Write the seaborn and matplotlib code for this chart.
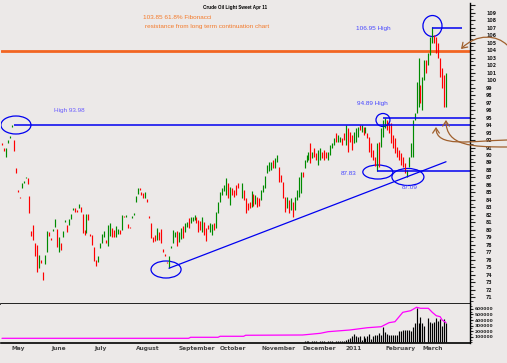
import numpy as np
import pandas as pd
import matplotlib
matplotlib.use("Agg")
import matplotlib.pyplot as plt
from matplotlib.patches import Ellipse, FancyArrowPatch
from matplotlib.path import Path
from matplotlib.ticker import MultipleLocator, FixedLocator
import seaborn as sns

sns.set_style("white")

# ---------------- data ----------------
holidays = ["2010-05-31", "2010-07-05", "2010-09-06", "2010-11-25",
            "2010-12-24", "2011-01-17", "2011-02-21"]
first_day, last_day = "2010-04-26", "2011-04-01"

# daily bars: trading-session number, high, low, up(1)/down(0)
bar_session = list(range(0, 121)) + list(range(122, 227))
bar_high = [91.6, 90.9, 90.9, 92.0, 92.5, 94.0, 92.0, 88.3, 85.3, 84.4,
            86.3, 86.5, 87.1, 86.9, 84.5, 79.9, 80.7, 78.3, 78.0, 76.7,
            76.0, 74.4, 76.7, 79.9, 79.7, 78.9, 80.1, 81.5, 80.1, 79.1,
            78.3, 79.9, 81.3, 80.7, 81.5, 82.1, 82.9, 82.9, 82.7, 83.5,
            83.1, 82.1, 80.0, 82.1, 82.1, 79.4, 79.3, 77.7, 76.0, 76.5,
            78.3, 79.5, 79.9, 78.7, 80.7, 80.9, 80.3, 80.0, 80.5, 80.1,
            80.0, 82.0, 81.9, 82.0, 80.8, 80.4, 81.9, 82.3, 84.5, 85.6,
            85.6, 85.1, 84.9, 85.1, 84.1, 81.9, 80.9, 79.1, 79.3, 80.3,
            79.7, 80.1, 77.5, 76.8, 75.7, 76.5, 77.9, 80.0, 79.7, 79.9,
            79.7, 80.3, 80.5, 80.9, 81.1, 81.6, 81.7, 81.7, 82.0, 81.7,
            81.3, 81.2, 81.7, 81.1, 80.3, 80.7, 80.9, 80.8, 80.9, 82.4,
            83.7, 85.1, 85.6, 86.0, 86.9, 86.3, 85.7, 85.6, 85.3, 86.0,
            86.3,
            86.3, 85.3, 84.3, 83.6, 83.7, 85.2, 84.8, 84.7, 84.4, 84.3,
            85.3, 86.0, 87.2, 88.7, 89.1, 89.1, 89.3, 89.6, 90.0, 88.4,
            87.3, 86.4, 84.4, 84.4, 84.0, 84.3, 83.7, 84.4, 85.3, 87.1,
            87.7, 87.7, 89.3, 90.0, 90.4, 91.6, 90.4, 90.9, 90.3, 90.7,
            90.9, 90.4, 90.7, 90.4, 90.4, 91.3, 91.6, 92.3, 92.9, 92.7,
            92.4, 92.3, 92.9, 94.0, 93.6, 93.1, 92.7, 93.1, 93.6, 93.7,
            94.0, 94.0, 93.7, 93.7, 92.9, 92.4, 91.6, 90.7, 89.7, 91.6,
            91.7, 93.6, 94.7, 95.0, 94.7, 94.3, 94.3, 92.7, 92.3, 91.1,
            90.7, 90.3, 89.7, 88.9, 88.0, 89.7, 91.6, 94.7, 95.6, 99.7,
            103.0, 99.3, 100.4, 102.7, 102.7, 103.6, 105.7, 107.1, 106.0, 105.7,
            105.0, 102.9, 101.6, 100.7, 100.9]
bar_low = [91.3, 90.5, 89.7, 91.6, 92.3, 93.7, 90.5, 87.6, 85.1, 84.2,
           85.6, 86.3, 86.9, 86.1, 82.3, 79.2, 78.7, 76.5, 74.4, 74.9,
           75.6, 73.3, 75.5, 77.1, 79.2, 78.7, 79.9, 80.4, 77.7, 77.1,
           77.3, 79.1, 81.0, 79.7, 80.7, 81.5, 82.7, 82.4, 82.4, 82.9,
           82.4, 79.6, 79.3, 79.6, 81.3, 79.2, 78.0, 75.9, 75.2, 75.7,
           77.6, 78.3, 79.1, 78.3, 77.9, 79.2, 79.1, 79.1, 79.1, 79.5,
           79.5, 80.0, 81.7, 81.7, 80.3, 80.3, 81.6, 82.0, 83.7, 84.8,
           85.3, 84.7, 84.3, 84.3, 83.7, 81.6, 78.9, 78.4, 78.5, 78.7,
           78.7, 78.3, 77.1, 76.5, 75.6, 74.9, 77.6, 78.3, 79.1, 77.9,
           78.4, 78.8, 78.9, 79.7, 80.4, 80.3, 80.9, 81.2, 81.3, 80.9,
           79.7, 80.0, 79.7, 79.3, 78.5, 80.1, 79.7, 79.3, 80.0, 80.3,
           82.3, 83.7, 84.7, 85.2, 84.7, 84.3, 83.3, 84.7, 84.4, 84.7,
           85.6,
           84.3, 84.0, 82.3, 82.7, 82.9, 83.1, 83.2, 83.5, 83.1, 83.2,
           84.0, 85.1, 85.6, 87.6, 87.9, 88.0, 88.3, 88.3, 89.1, 86.4,
           86.4, 84.3, 82.4, 82.9, 82.3, 82.7, 81.7, 82.7, 84.0, 84.4,
           84.9, 87.1, 88.3, 89.1, 89.3, 88.9, 89.6, 89.7, 89.3, 88.7,
           89.3, 89.6, 89.3, 89.6, 89.3, 90.0, 90.9, 91.3, 91.7, 91.7,
           91.7, 91.3, 92.0, 91.3, 90.4, 91.7, 90.7, 91.6, 91.7, 92.4,
           93.3, 93.1, 92.7, 92.9, 92.3, 90.4, 89.7, 89.3, 88.5, 87.8,
           88.4, 91.1, 92.4, 93.6, 93.3, 92.9, 91.6, 90.9, 90.3, 89.7,
           89.3, 88.7, 88.4, 87.6, 87.1, 88.4, 89.7, 89.7, 94.7, 95.6,
           96.4, 96.9, 96.0, 100.0, 100.9, 102.0, 103.3, 104.9, 104.9, 103.6,
           103.0, 100.4, 99.0, 96.4, 96.4]
bar_up = [0, 0, 1, 1, 1, 1, 0, 0, 0, 0,
          1, 1, 1, 0, 0, 0, 0, 0, 0, 1,
          0, 0, 1, 1, 0, 0, 1, 1, 0, 1,
          0, 1, 1, 0, 1, 1, 1, 0, 0, 1,
          0, 0, 0, 1, 0, 0, 0, 0, 0, 1,
          1, 1, 1, 0, 1, 1, 0, 0, 1, 1,
          0, 1, 0, 1, 0, 0, 1, 1, 1, 1,
          0, 0, 0, 1, 0, 0, 0, 0, 0, 1,
          0, 0, 0, 0, 0, 1, 1, 1, 1, 0,
          1, 1, 0, 1, 1, 0, 1, 1, 1, 0,
          0, 0, 1, 0, 0, 0, 1, 1, 0, 1,
          1, 1, 1, 1, 1, 0, 1, 0, 0, 0,
          0,
          1, 0, 0, 0, 0, 1, 0, 1, 0, 0,
          1, 1, 1, 1, 1, 1, 0, 1, 1, 0,
          0, 0, 0, 1, 0, 1, 0, 1, 1, 1,
          1, 0, 1, 1, 1, 0, 1, 0, 0, 1,
          1, 0, 0, 0, 1, 1, 1, 1, 0, 1,
          1, 0, 0, 1, 0, 0, 0, 1, 1, 1,
          0, 1, 0, 1, 0, 0, 0, 0, 0, 1,
          0, 1, 1, 1, 0, 0, 0, 0, 0, 0,
          0, 0, 0, 0, 1, 1, 1, 1, 1, 1,
          1, 0, 1, 1, 0, 1, 1, 1, 0, 0,
          0, 0, 0, 0, 1]

# volume
vol_session = [98, 99, 101, 102, 103, 112, 113, 114, 116, 125, 126, 128, 129, 131,
               134, 137, 140, 143, 147,
               154, 155, 156, 158, 159, 160, 162, 163, 164, 166, 167, 168, 170,
               171, 172, 173, 174,
               175, 176, 177, 178, 179, 180, 181, 182, 183, 184, 185, 186, 187,
               188, 189, 190, 191, 192, 193, 194, 195, 196, 197, 198, 199, 200,
               201, 202, 203, 204, 205, 206, 207, 208, 209, 210, 211, 212, 213,
               214, 215, 217, 218, 219, 220, 221, 222, 223, 224, 225, 226]
vol_value = [8000, 8000, 9000, 8000, 9000, 9000, 10000, 9000, 10000, 10000, 11000,
             12000, 10000, 13000, 12000, 10000, 12000, 14000, 12000,
             27000, 26000, 25000, 24000, 20000, 28000, 22000, 25000, 30000,
             24000, 27000, 25000, 28000, 30000, 26000, 33000, 30000,
             45000, 62000, 80000, 121000, 146000, 110000, 96000, 110000, 45000,
             110000, 75000, 110000, 152000, 60000, 114000, 125000, 134000,
             176000, 134000, 282000, 182000, 160000, 134000, 134000, 125000,
             140000, 134000, 205000, 205000, 223000, 223000, 223000, 223000,
             214000, 282000, 342000, 611000, 354000, 461000, 342000, 300000,
             443000, 371000, 354000, 371000, 443000, 389000, 420000, 295000,
             425000, 342000]

# open interest (magenta)
oi_session = [0, 95, 96, 110, 111, 123, 124, 153, 162, 166, 177, 186, 193, 197,
              200, 204, 208, 211, 213, 217, 219, 221, 223, 224, 226]
oi_value = [75000, 75000, 93000, 93000, 111000, 111000, 129000, 134000, 164000,
            193000, 223000, 264000, 282000, 354000, 371000, 539000, 568000,
            629000, 611000, 611000, 539000, 479000, 461000, 402000, 354000]

fib_level = 103.85
high_may = 93.98
high_jan = 94.89
low_jan = 87.83
high_feb = 106.95
trend_start = (85, 74.9)
trend_end = (226, 89.1)

title = "Crude Oil Light Sweet Apr 11"
fib_text1 = "103.85 61.8% Fibonacci"
fib_text2 = "resistance from long term continuation chart"

# ---------------- calendar ----------------
days = pd.bdate_range(first_day, last_day)
days = days[~days.isin(pd.to_datetime(holidays))]
sess = np.arange(len(days))
ser = pd.Series(sess, index=days)
month_first = ser.groupby([days.year, days.month]).first()
month_pos = list(month_first.values[1:])
month_lbl = []
for (yy, mm) in month_first.index[1:]:
    if mm == 1:
        month_lbl.append(str(yy))
    elif yy == 2011 and mm == 4:
        month_lbl.append("")
    else:
        month_lbl.append(pd.Timestamp(year=yy, month=mm, day=1).strftime("%B"))
week_pos = list(sess[days.dayofweek == 0])

# ---------------- figure ----------------
BG = "#ece9e8"
GREEN = "#008a00"
RED = "#ff0000"
BLUE = "#0000f0"
ORANGE = "#f26522"
BROWN = "#a0602d"

W, H = 507, 363
fig = plt.figure(figsize=(W / 100, H / 100), dpi=100, facecolor=BG)


def box(x0, y0, x1, y1):
    return [x0 / W, 1 - y1 / H, (x1 - x0) / W, (y1 - y0) / H]


def fp(x, y):
    return (x / W, 1 - y / H)


ax = fig.add_axes(box(1, 3, 470, 304))
axv = fig.add_axes(box(1, 304, 470, 343), sharex=ax)
for a in (ax, axv):
    a.set_facecolor(BG)
    a.spines["left"].set_visible(False)
    a.spines["top"].set_visible(False)
    a.spines["right"].set_color("black")
    a.spines["right"].set_linewidth(1.0)
    a.spines["bottom"].set_color("black")
    a.spines["bottom"].set_linewidth(1.2)

df = pd.DataFrame({"session": bar_session, "high": bar_high, "low": bar_low, "up": bar_up})
cols = np.where(df["up"] == 1, GREEN, RED)
ax.vlines(df["session"], df["low"], df["high"], colors=cols, linewidth=0.85)

ax.set_xlim(-0.5, 238.2)
ax.set_ylim(70.13, 110.27)

# horizontal levels
ax.axhline(fib_level, color=ORANGE, linewidth=2.0, zorder=1)
ax.hlines(high_may, 6, 238.2, color=BLUE, linewidth=1.1)
ax.hlines(high_jan, 194, 238.2, color=BLUE, linewidth=1.1)
ax.hlines(low_jan, 191, 238.2, color=BLUE, linewidth=1.1)
ax.hlines(high_feb, 219, 234, color=BLUE, linewidth=1.1)
ax.plot([trend_start[0], trend_end[0]], [trend_start[1], trend_end[1]],
        color=BLUE, linewidth=0.9)

# ellipses
for (cx, cy, w, h) in [(7.1, 94.0, 15.3, 2.4), (83.5, 74.73, 15.3, 2.27),
                       (193.9, 94.67, 7.1, 1.73), (191.3, 87.73, 15.3, 1.87),
                       (206.6, 87.07, 16.3, 2.27), (219.1, 107.2, 9.7, 2.8)]:
    ax.add_patch(Ellipse((cx, cy), w, h, fill=False, edgecolor=BLUE, linewidth=0.9))

tf = ["Liberation Sans", "DejaVu Sans"]
ax.text(71.8, 108.27, fib_text1, color="#f47a2a", fontsize=4.6, family=tf, va="center")
ax.text(72.8, 107.07, fib_text2, color="#f47a2a", fontsize=4.6, family=tf, va="center")
ax.text(180, 106.93, "106.95 High", color="#4646ff", fontsize=4.6, family=tf, va="center")
ax.text(180.7, 96.93, "94.89 High", color="#4646ff", fontsize=4.6, family=tf, va="center")
ax.text(26.5, 95.87, "High 93.98", color="#6a5cff", fontsize=4.6, family=tf, va="center")
ax.text(172.5, 87.47, "87.83", color="#4646ff", fontsize=4.6, family=tf, va="center")
ax.text(207.6, 85.6, "87.09", color="#4646ff", fontsize=4.6, family=tf, va="center", ha="center")
fig.text(235 / W, 1 - 8 / H, title, fontsize=3.3, family=tf, fontweight="bold",
         ha="center", va="center", color="black")

# price axis (right)
ax.yaxis.tick_right()
ax.yaxis.set_major_locator(FixedLocator(list(range(71, 111))))
ax.set_yticklabels([str(v) if v <= 109 else "" for v in range(71, 111)])
ax.yaxis.set_minor_locator(MultipleLocator(0.5))
ax.tick_params(axis="y", which="major", right=True, left=False, direction="out",
               length=3.6, width=0.8, labelsize=3.4, pad=8, colors="#222222")
ax.tick_params(axis="y", which="minor", right=True, left=False, direction="out",
               length=1.8, width=0.6, colors="#222222")
for t in ax.get_yticklabels():
    t.set_fontweight("bold")
ax.tick_params(axis="x", which="both", bottom=False, labelbottom=False)

# volume panel
axv.vlines(vol_session, 0, vol_value, colors="black", linewidth=0.85)
sns.lineplot(x=oi_session, y=oi_value, ax=axv, color="#ff00ff", linewidth=0.9)
axv.set_ylim(-9000, 687500)
axv.yaxis.tick_right()
axv.yaxis.set_major_locator(FixedLocator([100000, 200000, 300000, 400000, 500000, 600000]))
axv.set_yticklabels(["100000", "200000", "300000", "400000", "500000", "600000"])
axv.yaxis.set_minor_locator(MultipleLocator(50000))
axv.tick_params(axis="y", which="major", right=True, left=False, direction="out",
                length=2.2, width=0.8, labelsize=3.2, pad=1.2, colors="#222222")
axv.tick_params(axis="y", which="minor", right=True, left=False, direction="out",
                length=1.2, width=0.6, colors="#222222")
for t in axv.get_yticklabels():
    t.set_fontweight("bold")
axv.set_ylabel("")

axv.set_xticks(month_pos)
axv.set_xticklabels(month_lbl)
axv.set_xticks(week_pos, minor=True)
axv.tick_params(axis="x", which="major", direction="out", length=7.9, width=0.9,
                pad=-5.6, labelsize=4.2, colors="#222222")
axv.tick_params(axis="x", which="minor", direction="out", length=1.5, width=0.6,
                colors="#222222")
for t in axv.get_xticklabels():
    t.set_horizontalalignment("left")
    t.set_fontweight("bold")
    t.set_color("#444444")
axv.set_xlim(-0.5, 238.2)

# brown curved arrows (right margin), drawn as cubic Bezier paths
arrow_paths = [
    [(507, 45), (497, 35), (477, 33), (461, 49)],
    [(507, 140), (470, 141), (436, 148), (436, 127)],
    [(507, 147), (472, 147), (446, 146), (446, 120)],
]
for pts in arrow_paths:
    verts = [fp(x, y) for (x, y) in pts]
    path = Path(verts, [Path.MOVETO, Path.CURVE4, Path.CURVE4, Path.CURVE4])
    arr = FancyArrowPatch(path=path, arrowstyle="->,head_length=0.45,head_width=0.3",
                          mutation_scale=8, color=BROWN, lw=0.9,
                          transform=fig.transFigure)
    fig.add_artist(arr)

fig.savefig("out.png", dpi=100, facecolor=BG)
